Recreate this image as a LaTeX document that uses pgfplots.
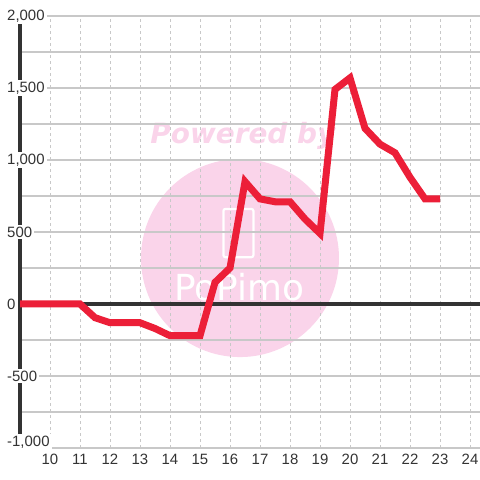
\documentclass[border=0pt]{standalone}
\usepackage{pgfplots}
\pgfplotsset{compat=1.18}
\usepackage{fontspec}
\setmainfont{Liberation Sans}
\newfontfamily\wmfont{DejaVu Sans}
\definecolor{txt}{HTML}{333333}
\definecolor{gridc}{HTML}{C8C8C8}
\definecolor{redl}{HTML}{EC1F38}
\definecolor{wm}{HTML}{FAD4EA}
\begin{document}
\begin{tikzpicture}
\begin{axis}[
  name=ax,
  set layers,
  scale only axis,
  width=460bp, height=432bp,
  xmin=9, xmax=24.3333, ymin=-1000, ymax=2000,
  axis x line*=bottom, axis y line*=left,
  x axis line style={draw=none},
  y axis line style={line width=3bp, draw=txt},
  xtick={10,...,24},
  ytick={-500,0,...,2000},
  extra y ticks={-1000},
  extra y tick style={yticklabel style={yshift=6bp}, grid=major},
  minor ytick={-750,-250,250,750,1250,1750},
  major tick length=0pt, minor tick length=0pt,
  xmajorgrids, ymajorgrids, yminorgrids,
  x grid style={gridc, line width=0.9bp, dash pattern=on 3bp off 3bp},
  y grid style={gridc, line width=1.3bp},
  minor y grid style={gridc, line width=1.3bp},
  tick label style={font=\fontsize{15}{17}\selectfont, text=txt},
  /pgf/number format/.cd, 1000 sep={,}, assume math mode=true,
  /pgfplots/.cd,
  yticklabel style={anchor=west, fill=white, inner xsep=2bp, inner ysep=1.5bp, xshift=-15bp},
  xticklabel style={yshift=-3bp},
]
\begin{pgfonlayer}{axis background}
  \fill[wm] (axis cs:16.333,319) circle[radius=99bp];
  \node[wm, font=\wmfont\bfseries\itshape\fontsize{28}{30}\selectfont, anchor=base] at (axis cs:16.43,1118) {Powered by};
  \draw[white, line width=2.2bp, rounded corners=2bp] (axis cs:15.78,660) rectangle (axis cs:16.78,325);
  \node[white, font=\wmfont\fontsize{36}{38}\selectfont, anchor=base] at (axis cs:16.3,25) {PoPimo};
\end{pgfonlayer}
\addplot[txt, line width=3.5bp, forget plot] coordinates {(9,0) (24.3333,0)};
\addplot[redl, line width=7bp] coordinates {
(8.95,0) (9.5,0) (10,0) (10.5,0) (11,0) (11.5,-95) (12,-130) (12.5,-130) (13,-130)
(13.5,-170) (14,-220) (14.5,-220) (15,-220) (15.5,150) (16,250) (16.5,850)
(17,730) (17.5,710) (18,710) (18.5,590) (19,490) (19.5,1490) (20,1570)
(20.5,1220) (21,1110) (21.5,1050) (22,880) (22.5,730) (23,730)};
\end{axis}
\pgfresetboundingbox
\path ([xshift=-20bp,yshift=-32bp]ax.south west) rectangle ([yshift=16bp]ax.north east);
\end{tikzpicture}
\end{document}
